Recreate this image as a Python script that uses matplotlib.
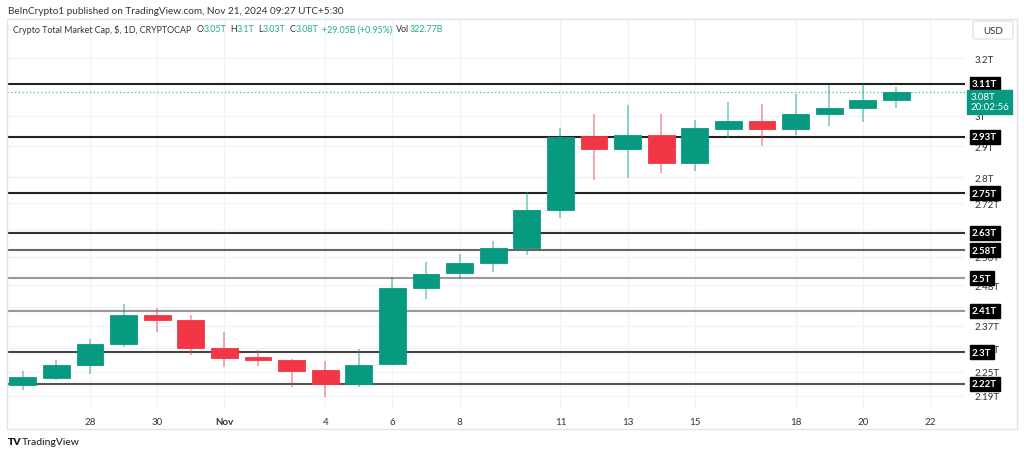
import numpy as np
import pandas as pd
import matplotlib
matplotlib.use("Agg")
import matplotlib.pyplot as plt
import matplotlib.dates as mdates
from matplotlib.patches import Rectangle, FancyBboxPatch

plt.rcParams['font.family'] = ['Lato', 'DejaVu Sans']

# daily candles, Oct 26 - Nov 21 2024 (trillions USD)
dates = pd.date_range('2024-10-26', '2024-11-21', freq='D')
opens = [2.218, 2.235, 2.268, 2.322, 2.399, 2.385, 2.312, 2.288, 2.281, 2.255,
         2.220, 2.270, 2.473, 2.515, 2.543, 2.587, 2.700, 2.933, 2.891, 2.937,
         2.846, 2.957, 2.983, 2.957, 3.007, 3.027, 3.054]
highs = [2.253, 2.281, 2.335, 2.428, 2.418, 2.399, 2.354, 2.306, 2.283, 2.278,
         2.309, 2.504, 2.546, 2.570, 2.605, 2.755, 2.960, 3.007, 3.037, 3.007,
         2.987, 3.047, 3.040, 3.075, 3.107, 3.110, 3.100]
lows = [2.205, 2.230, 2.245, 2.314, 2.354, 2.294, 2.263, 2.266, 2.211, 2.188,
        2.211, 2.268, 2.442, 2.498, 2.517, 2.567, 2.676, 2.792, 2.798, 2.814,
        2.821, 2.927, 2.900, 2.937, 2.967, 2.980, 3.027]
closes = [2.238, 2.268, 2.322, 2.399, 2.385, 2.312, 2.286, 2.281, 2.253, 2.220,
          2.268, 2.473, 2.512, 2.543, 2.587, 2.700, 2.930, 2.891, 2.937, 2.846,
          2.960, 2.983, 2.957, 3.007, 3.027, 3.054, 3.082]

# support / resistance levels drawn by the author
levels = [3.11, 2.93, 2.75, 2.63, 2.58, 2.5, 2.41, 2.3, 2.22]
level_colors = ['#222222', '#222222', '#222222', '#333333', '#666666',
                '#999999', '#999999', '#444444', '#555555']
last_price = 3.08

y_ticks = [3.2, 3.0, 2.9, 2.8, 2.72, 2.64, 2.56, 2.48, 2.42, 2.37, 2.31, 2.25, 2.19]
y_tick_labels = ['3.2T', '3T', '2.9T', '2.8T', '2.72T', '2.64T', '2.56T', '2.48T',
                 '2.42T', '2.37T', '2.31T', '2.25T', '2.19T']
x_ticks = ['2024-10-28', '2024-10-30', '2024-11-01', '2024-11-04', '2024-11-06',
           '2024-11-08', '2024-11-11', '2024-11-13', '2024-11-15', '2024-11-18',
           '2024-11-20', '2024-11-22']
x_tick_labels = ['28', '30', 'Nov', '4', '6', '8', '11', '13', '15', '18', '20', '22']

UP = '#089981'
DOWN = '#F23645'
TEAL_TXT = '#22ab94'
GREY_TXT = '#333333'

W, H = 1024, 456
fig = plt.figure(figsize=(W / 100, H / 100), dpi=100)
fig.patch.set_facecolor('white')

# pixel layout of the plot pane
px_l, px_r, px_t, px_b = 7, 965, 20, 410
ax = fig.add_axes([px_l / W, 1 - px_b / H, (px_r - px_l) / W, (px_b - px_t) / H])
ax.set_facecolor('white')

x = mdates.date2num(dates)
o = np.array(opens); c = np.array(closes)
hi = np.array(highs); lo = np.array(lows)
cols = np.where(c >= o, UP, DOWN)

ax.set_yscale('log')
ax.set_ylim(2.158, 3.345)
ax.set_xlim(x[0] - 0.47, x[0] + 28.04)

# grid
xt = mdates.date2num(pd.to_datetime(x_ticks))
for v in xt:
    ax.axvline(v, color='#f0f3fa', lw=1, zorder=0)
for v in y_ticks:
    ax.axhline(v, color='#f0f3fa', lw=1, zorder=0)

# level lines
for lv, lc in zip(levels, level_colors):
    ax.axhline(lv, color=lc, lw=1.5, zorder=1)

# current price dotted line
ax.axhline(last_price, color=UP, lw=0.9, ls=(0, (1, 2)), alpha=0.7, zorder=1)

# candles
ax.vlines(x, lo, hi, colors=cols, lw=1.1, alpha=0.55, zorder=2)
bottoms = np.minimum(o, c)
heights = np.abs(c - o)
ax.bar(x, heights, bottom=bottoms, width=0.8, color=cols, edgecolor=cols,
       lw=0.6, zorder=3)

ax.set_yticks(y_ticks)
ax.set_yticklabels(y_tick_labels)
ax.yaxis.set_minor_locator(matplotlib.ticker.NullLocator())
ax.yaxis.tick_right()
ax.tick_params(axis='y', length=0, pad=7, labelsize=7, labelcolor=GREY_TXT)
ax.set_xticks(xt)
ax.set_xticklabels(x_tick_labels)
ax.tick_params(axis='x', length=0, pad=6, labelsize=7, labelcolor=GREY_TXT)
for lbl in ax.get_xticklabels():
    if lbl.get_text() == 'Nov':
        lbl.set_fontweight('bold')
for s in ax.spines.values():
    s.set_visible(False)

# level labels on the price scale
ytr = ax.get_yaxis_transform()
bx = (972 - px_l) / (px_r - px_l)
for lv in levels:
    lab = ('%g' % lv) + 'T'
    ax.text(bx, lv, lab, transform=ytr, ha='left', va='center', fontsize=7,
            fontweight='bold', color='white', clip_on=False, zorder=10,
            bbox=dict(boxstyle='square,pad=0.25', fc='black', ec='black'))
ax.text(bx - 0.002, last_price, '3.08T\n20:02:56', transform=ytr, ha='left',
        va='top', fontsize=7, color='white', clip_on=False, zorder=11,
        linespacing=1.1,
        bbox=dict(boxstyle='square,pad=0.3', fc=UP, ec=UP))

# pane border
fig.patches.append(Rectangle((px_l / W, 1 - 430 / H), (1017 - px_l) / W, (430 - px_t) / H,
                             transform=fig.transFigure, fill=False, ec='#e0e3eb', lw=1))
# USD box
fig.patches.append(FancyBboxPatch((973 / W, 1 - 40 / H), 40 / W, 18 / H,
                                  boxstyle='round,pad=0,rounding_size=0.004',
                                  transform=fig.transFigure, fc='white', ec='#e0e3eb', lw=1))
fig.text(993 / W, 1 - 31 / H, 'USD', ha='center', va='center', fontsize=7, color=GREY_TXT)

# header
fig.text(8 / W, 1 - 11 / H, 'BeInCrypto1 published on TradingView.com, Nov 21, 2024 09:27 UTC+5:30',
         ha='left', va='center', fontsize=7.2, color=GREY_TXT)

# legend line: pieces placed one after another, using the rendered widths
parts = [('Crypto Total Market Cap, $, 1D, CRYPTOCAP', GREY_TXT, 5),
         ('O', GREY_TXT, 0), ('3.05T', TEAL_TXT, 4),
         ('H', GREY_TXT, 0), ('3.1T', TEAL_TXT, 4),
         ('L', GREY_TXT, 0), ('3.03T', TEAL_TXT, 4),
         ('C', GREY_TXT, 0), ('3.08T', TEAL_TXT, 4),
         ('+29.05B (+0.95%)', TEAL_TXT, 4),
         ('Vol', GREY_TXT, 0), ('322.77B', TEAL_TXT, 0)]
renderer = fig.canvas.get_renderer()
cur = 13
for t, col, gap in parts:
    txt = fig.text(cur / W, 1 - 30 / H, t, ha='left', va='center', fontsize=6.4, color=col)
    cur += txt.get_window_extent(renderer).width + gap

# footer logo
fig.text(8 / W, 1 - 443 / H, 'TV', ha='left', va='center', fontsize=7.5,
         fontweight='heavy', color='#131722')
fig.text(22 / W, 1 - 443 / H, 'TradingView', ha='left', va='center', fontsize=7.5,
         color='#131722')

fig.savefig('out.png', dpi=100, facecolor='white')
